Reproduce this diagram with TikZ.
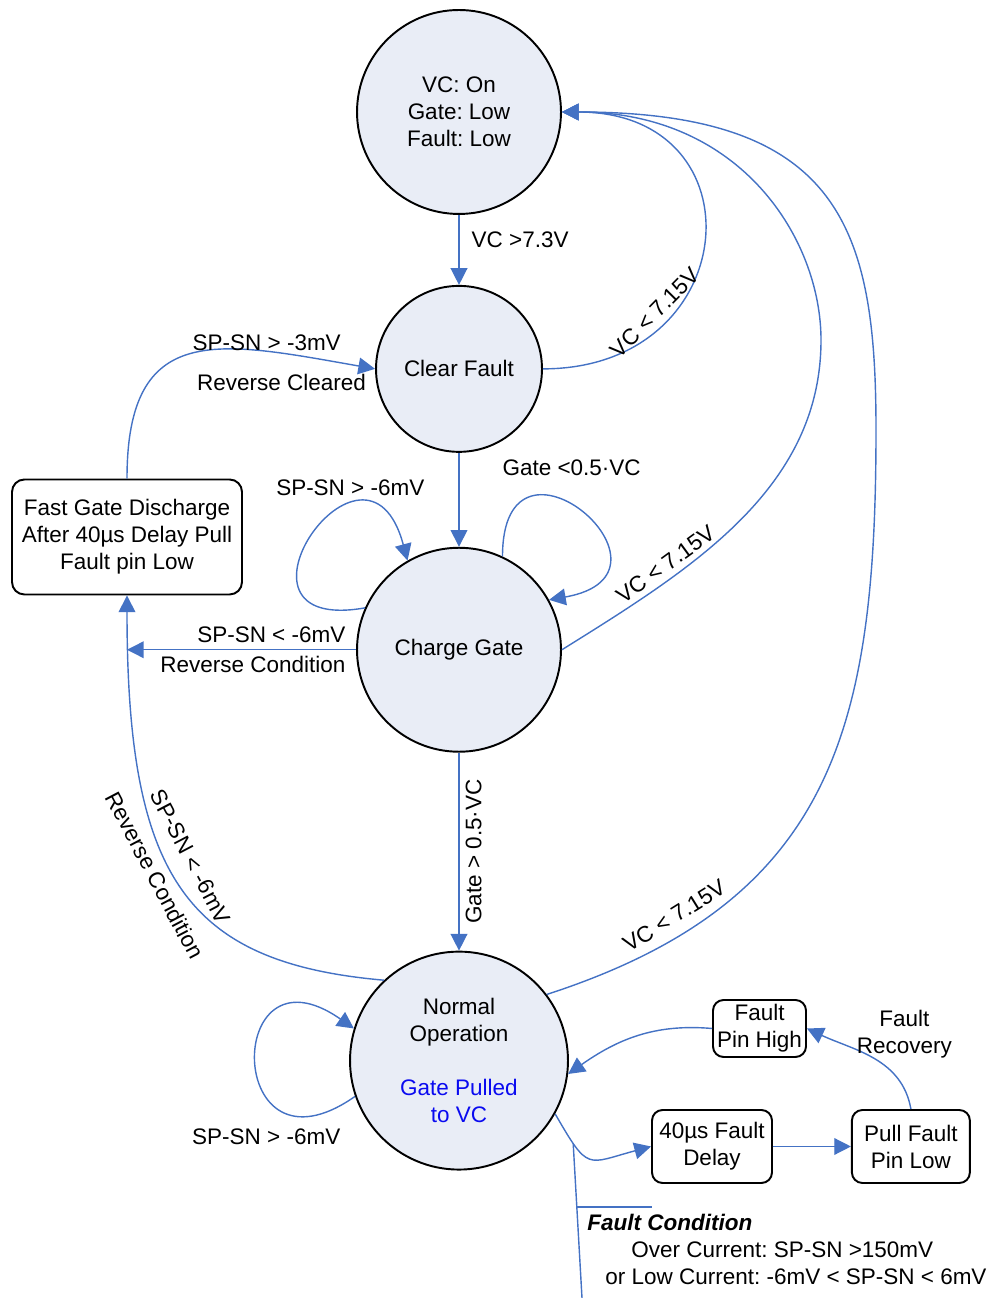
\documentclass[tikz,border=0pt]{standalone}
\usepackage{fontspec}
\setmainfont{Liberation Sans}
\usetikzlibrary{arrows.meta, positioning}
\definecolor{edgeblue}{RGB}{68,114,196}
\definecolor{statefill}{RGB}{233,237,246}
\definecolor{pullblue}{RGB}{10,10,240}
\frenchspacing
\tikzset{
    statenode/.style={circle, draw=black, fill=statefill, line width=1.1pt, inner sep=0pt, align=center},
    boxnode/.style={rectangle, rounded corners=6pt, draw=black, fill=white, line width=1.1pt, inner sep=1pt, align=center},
    myarrow/.style={-{Triangle[length=9.5pt, width=9.5pt]}, draw=edgeblue, line width=0.8pt},
    myline/.style={draw=edgeblue, line width=0.8pt}
}
\begin{document}
\begin{tikzpicture}[x=0.02cm, y=0.02cm, font=\fontsize{12.8pt}{15.4pt}\selectfont]

        \useasboundingbox (0,0) rectangle (994,1298);

        % ------------------
        % nodes
        % ------------------

        \node[statenode, minimum size=4.08cm] (vcon) at (459,1186) {VC: On\\Gate: Low\\Fault: Low};
        \node[statenode, minimum size=3.32cm, below=1.4cm of vcon] (clearfault) {Clear Fault};
        \node[statenode, minimum size=4.08cm, below=1.88cm of clearfault] (chargegate) {Charge Gate};
        \node[statenode, minimum size=4.36cm, below=3.96cm of chargegate] (normalop) {Normal\\Operation\\[15.4pt]\textcolor{pullblue}{Gate Pulled}\\\textcolor{pullblue}{to VC}};

        \node[boxnode, rounded corners=7pt, minimum width=4.6cm, minimum height=2.3cm] (discharge) at (127,761) {Fast Gate Discharge\\After 40µs Delay Pull\\Fault pin Low};

        \node[boxnode, minimum width=2.4cm, minimum height=1.46cm] (faultdelay) at (712,151.5) {40µs Fault\\Delay};
        \node[boxnode, minimum width=2.36cm, minimum height=1.46cm, right=1.56cm of faultdelay] (pulllow) {Pull Fault\\Pin Low};
        \node[boxnode, minimum width=1.86cm, minimum height=1.14cm] (pinhigh) at (759.5,269.5) {Fault\\Pin High};

        \node[anchor=north west, inner sep=0pt, align=left] (condition) at (587,84) {\textbf{\textit{Fault Condition}}\\\hspace*{0.88cm}Over Current: SP-SN >150mV\\\hspace*{0.36cm}or Low Current: -6mV < SP-SN < 6mV};

        \coordinate (middlebend) at (821,958);
        \coordinate (outerbend) at (876,868);
        \coordinate (condend) at (582,0);
        \coordinate (bracketleft) at (577,91);
        \coordinate (bracketright) at (652,91);

        % ------------------
        % arrows
        % ------------------

        \draw[myarrow] (vcon) -- node[pos=0.35, right=3.5pt] {VC >7.3V} (clearfault);
        \draw[myarrow] (clearfault.east) to[out=0, in=0, looseness=2] node[pos=0.27, sloped, above] {VC < 7.15V} (vcon.east);
        \draw[myarrow] (clearfault) -- (chargegate);

        \draw[myarrow] (chargegate.156) to[out=190, in=105, distance=3.2cm] node[pos=0.7, above=3pt] {SP-SN > -6mV} (chargegate.120);
        \draw[myarrow] (chargegate.65) to[out=90, in=10, distance=3cm] node[pos=0.45, above=13pt] {Gate <0.5·VC} (chargegate.29);
        \draw[myarrow] (chargegate.east) to[out=32, in=-90, distance=3cm] node[pos=0.3, sloped, above] {VC < 7.15V} (middlebend)
            to[out=90, in=0, out distance=2cm, in distance=3.6cm] (vcon.east);
        \draw[myarrow] (chargegate.west) -- node[pos=0.37, above] {SP-SN < -6mV} node[pos=0.45, below] {Reverse Condition} (chargegate.west -| discharge.south);
        \draw[myarrow] (chargegate) -- node[midway, anchor=north, rotate=90] {Gate > 0.5·VC} (normalop);

        \draw[myarrow] (discharge.north) to[out=90, in=170, looseness=1.5] node[pos=0.74, above=-3pt] {SP-SN > -3mV} node[pos=0.78, below=8pt] {Reverse Cleared} (clearfault.west);

        \draw[myarrow] (normalop.133) to[out=175, in=-90, out distance=4cm, in distance=5.6cm] node[pos=0.55, sloped, above=5pt] {SP-SN < -6mV} node[pos=0.55, sloped, below=1pt] {Reverse Condition} (discharge.south);
        \draw[myarrow] (normalop.37) to[out=18, in=-90, distance=6cm] node[pos=0.19, sloped, above=3pt] {VC < 7.15V} (outerbend)
            to[out=90, in=0, out distance=4cm, in distance=5.6cm] (vcon.east);
        \draw[myarrow] (normalop.199) to[out=215, in=145, distance=3.2cm] node[pos=0.3, below=10pt, xshift=-0.12cm] {SP-SN > -6mV} (normalop.163);

        \draw[myarrow] (normalop.-29) to[out=-60, in=195, looseness=1.7] coordinate[pos=0.22] (condstart) (faultdelay.west);
        \draw[myarrow] (faultdelay) -- (pulllow);
        \draw[myarrow] (pulllow.north) to[out=100, in=-25] node[pos=0.3, above=5pt, xshift=0.22cm, align=center] {Fault\\Recovery} (pinhigh.east);
        \draw[myarrow] (pinhigh.west) to[out=175, in=35] (normalop.-7);

        \draw[myline] (condstart) -- (condend);
        \draw[myline] (bracketleft) -- (bracketright);

\end{tikzpicture}
\end{document}
